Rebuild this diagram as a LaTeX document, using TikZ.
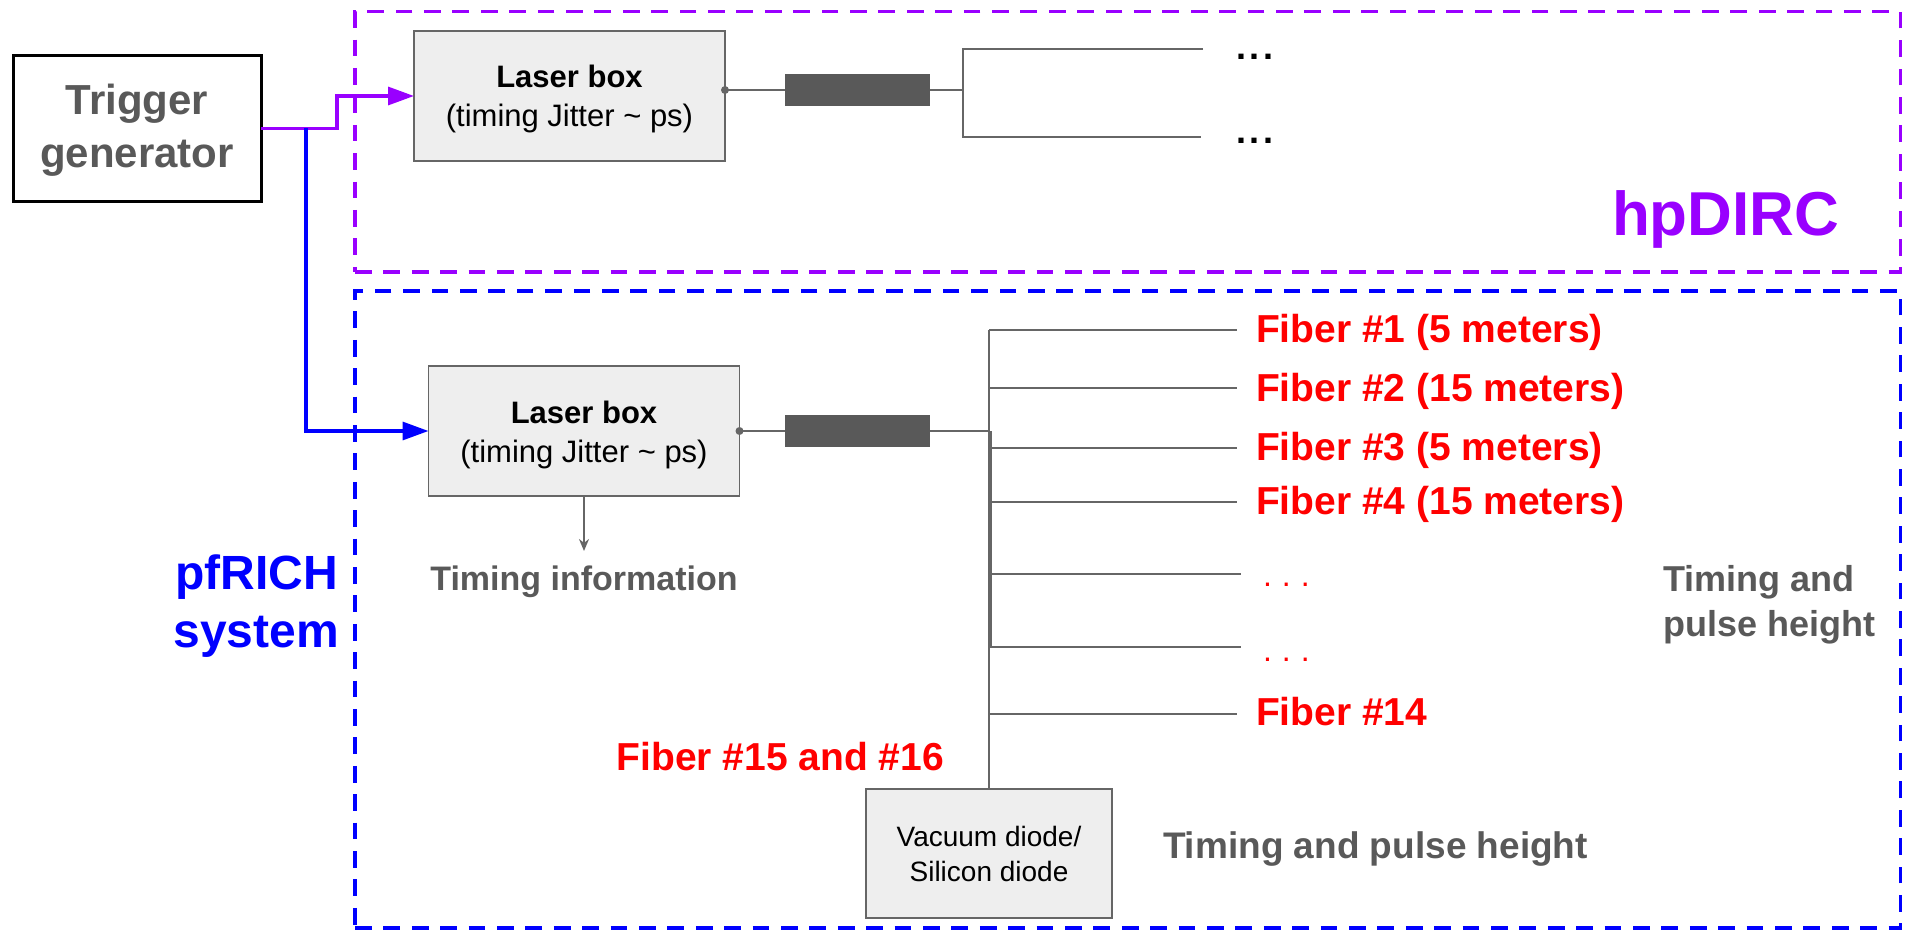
\documentclass[tikz,border=0pt]{standalone}
\usepackage{fontspec}
\setmainfont{Liberation Sans}
\usetikzlibrary{arrows.meta,calc}
\definecolor{purp}{HTML}{9900FF}
\definecolor{blu}{HTML}{0000FF}
\definecolor{rd}{HTML}{FF0000}
\definecolor{gtxt}{HTML}{595959}
\definecolor{bfill}{HTML}{EEEEEE}
\definecolor{bline}{HTML}{666666}
\definecolor{darkrect}{HTML}{595959}
\newcommand\fsz[1]{\fontsize{#1}{#1}\selectfont}
\begin{document}
\begin{tikzpicture}[x=1pt,y=-1pt,
  every node/.style={inner sep=0pt,outer sep=0pt},
  frame/.style={draw,line width=3.3pt,dash pattern=on 16.7pt off 11.7pt,minimum width=1545.7pt},
  lbox/.style={draw=bline,fill=bfill,line width=1.5pt,minimum width=311pt,minimum height=130pt},
  fibrect/.style={fill=darkrect,minimum width=145pt,minimum height=32pt},
  wire/.style={draw=bline,line width=2pt},
  redlbl/.style={text=rd,font=\fsz{39}\bfseries,anchor=base west},
  graylbl/.style={text=gtxt,font=\fsz{36}\bfseries},
  lasertitle/.style={font=\fsz{31}\bfseries,anchor=base},
  lasersub/.style={font=\fsz{31},anchor=base},
  thickarrow/.style={line width=3.3pt,-{Triangle[length=26pt,width=18pt]}},
]
\useasboundingbox (0,0) rectangle (1905,931);

% frames
\node[frame,draw=purp,minimum height=260.3pt] (hp) at (1127.85,141.85) {};
\node[frame,draw=blu,minimum height=637pt] (pf) at (1127.85,609.5) {};
\node[text=purp,font=\fsz{62}\bfseries,anchor=base west] (hplbl) at (1612,235) {hpDIRC};
\node[text=blu,font=\fsz{48}\bfseries,anchor=base east] (pflbl1) at (338,589) {pfRICH};
\node[text=blu,font=\fsz{48}\bfseries,anchor=base east] (pflbl2) at (339,647) {system};

% trigger
\node[draw=black,line width=3pt,minimum width=248pt,minimum height=145pt] (trig) at (137,128.5) {};
\node[text=gtxt,font=\fsz{42}\bfseries,anchor=base] (trigA) at (137,115) {Trigger};
\node[text=gtxt,font=\fsz{42}\bfseries,anchor=base] (trigB) at (137,167) {generator};

% laser boxes
\node[lbox] (laserA) at (569.5,96) {};
\node[lasertitle] (laserAt1) at (569.5,88) {Laser box};
\node[lasersub] (laserAt2) at (569.5,127) {(timing Jitter \textasciitilde{} ps)};
\node[lbox] (laserB) at (584,431) {};
\node[lasertitle] (laserBt1) at (584,423) {Laser box};
\node[lasersub] (laserBt2) at (584,462) {(timing Jitter \textasciitilde{} ps)};

% trigger connections
\coordinate (bend) at (337,128.5);
\coordinate (split) at (306,128.5);
\draw[purp,thickarrow] (trig.east) -- (bend) |- (laserA.west);
\draw[blu,thickarrow] (split) |- (laserB.west);

% top fiber assembly
\coordinate (dA) at ([yshift=6pt]laserA.east);
\node[fibrect] (fibA) at (857.5,90) {};
\coordinate (jA) at (963,90);
\coordinate (tA1) at (963,49);
\coordinate (tA2) at (963,137);
\coordinate (eA1) at (1203,49);
\coordinate (eA2) at (1201,137);
\draw[wire] (dA) -- (fibA.west);
\draw[wire] (fibA.east) -- (jA);
\draw[wire] (eA1) -- (tA1) -- (tA2) -- (eA2);
\fill[bline] (dA) circle (4pt);
\node[font=\fsz{36}\bfseries,anchor=base west] (dotsA1) at (1236,60) {.\kern3.5pt.\kern3.5pt.};
\node[font=\fsz{36}\bfseries,anchor=base west] (dotsA2) at (1236,143) {.\kern3.5pt.\kern3.5pt.};

% bottom fiber assembly
\node[fibrect] (fibB) at (857.5,431) {};
\node[lbox,minimum width=246pt,minimum height=129pt] (diode) at (989,853.5) {};
\node[font=\fsz{28},anchor=base] (diodet1) at (989,846.7) {Vacuum diode/};
\node[font=\fsz{28},anchor=base] (diodet2) at (989,881.7) {Silicon diode};
\coordinate (jB) at (990,431);
\coordinate (vtop) at (989,330);
\draw[wire] (laserB.east) -- (fibB.west);
\draw[wire] (fibB.east) -- (jB);
\draw[wire] (vtop) -- (diode.north);
\draw[wire,line width=3pt] (990.5,431) -- (990.5,647);
\foreach \yy in {330,388,448,502,714}{
  \draw[wire] (989,\yy) -- (1237,\yy);
}
\foreach \yy in {574,647}{
  \draw[wire] (989,\yy) -- (1241,\yy);
}
\fill[bline] (laserB.east) circle (4pt);

\node[redlbl] (f1) at (1256,342.7) {Fiber \#1 (5 meters)};
\node[redlbl] (f2) at (1256,401.7) {Fiber \#2 (15 meters)};
\node[redlbl] (f3) at (1256,460) {Fiber \#3 (5 meters)};
\node[redlbl] (f4) at (1256,514) {Fiber \#4 (15 meters)};
\node[text=rd,font=\fsz{32},anchor=base west] (fd1) at (1263,586.7) {.\kern10pt.\kern10pt.};
\node[text=rd,font=\fsz{32},anchor=base west] (fd2) at (1263,661.7) {.\kern10pt.\kern10pt.};
\node[redlbl] (f14) at (1256,725) {Fiber \#14};
\node[redlbl] (f15) at (616.5,770) {Fiber \#15 and \#16};

% timing information
\draw[wire,-{Stealth[length=12pt,width=10pt]}] (laserB.south) -- (584,551);
\node[graylbl,font=\fsz{34}\bfseries,anchor=base] (tinfo) at (584,590) {Timing information};
\node[graylbl,anchor=base west] (tph1) at (1663,591.7) {Timing and};
\node[graylbl,anchor=base west] (tph2) at (1663,636.7) {pulse height};
\node[graylbl,font=\fsz{37}\bfseries,anchor=base west] (tph3) at (1163,858) {Timing and pulse height};
\end{tikzpicture}
\end{document}
